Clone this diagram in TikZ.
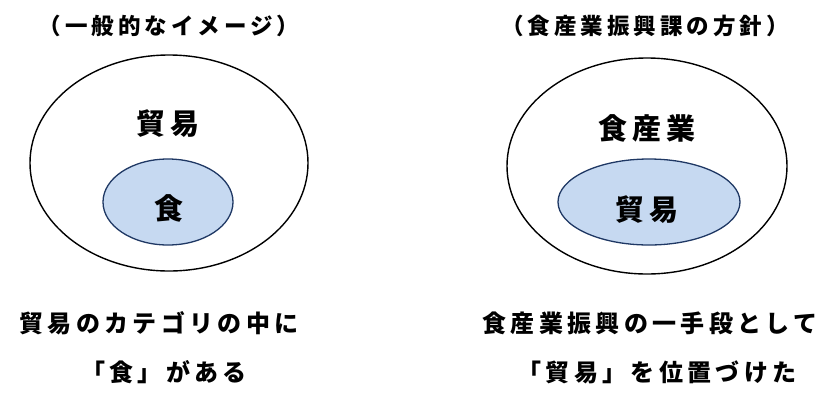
\documentclass[tikz,border=0pt]{standalone}
\usepackage{fontspec}
\usetikzlibrary{shapes.geometric}
\setmainfont{Noto Sans CJK JP}
\newfontfamily\jpsp{Noto Sans CJK JP}[LetterSpace=18]
\definecolor{innerfill}{HTML}{C6D9F1}
\definecolor{inneredge}{HTML}{1F3864}
\begin{document}
\begin{tikzpicture}[x=1pt,y=-1pt,
  outer/.style={draw=black,line width=1.4pt,ellipse,inner sep=0pt},
  inner/.style={draw=inneredge,fill=innerfill,line width=1.3pt,ellipse,inner sep=0pt},
  title/.style={font=\jpsp\bfseries\fontsize{22.5}{26}\selectfont},
  big/.style={font=\jpsp\bfseries\fontsize{29}{32}\selectfont},
  caption/.style={font=\jpsp\bfseries\fontsize{24}{30}\selectfont}]
\useasboundingbox (0,0) rectangle (830,400);
% left
\node[title] (lt) at (169,26) {（一般的なイメージ）};
\node[outer,minimum width=278pt,minimum height=216pt] (lo) at (169,163) {};
\node[inner,minimum width=130pt,minimum height=86pt] (li) at (168,202) {};
\node[big] (l1) at (168,124) {貿易};
\node[big] (l2) at (169,208) {食};
\node[caption] (lc1) at (159,323) {貿易のカテゴリの中に};
\node[caption] (lc2) at (164,372) {「食」がある};
% right
\node[title] (rt) at (645,26) {（食産業振興課の方針）};
\node[outer,minimum width=280pt,minimum height=216pt] (ro) at (647,166) {};
\node[inner,minimum width=182pt,minimum height=86pt] (ri) at (649,202) {};
\node[big] (r1) at (647,128) {食産業};
\node[big] (r2) at (647,210) {貿易};
\node[caption] (rc1) at (650,323) {食産業振興の一手段として};
\node[caption] (rc2) at (657,372) {「貿易」を位置づけた};
\end{tikzpicture}
\end{document}
